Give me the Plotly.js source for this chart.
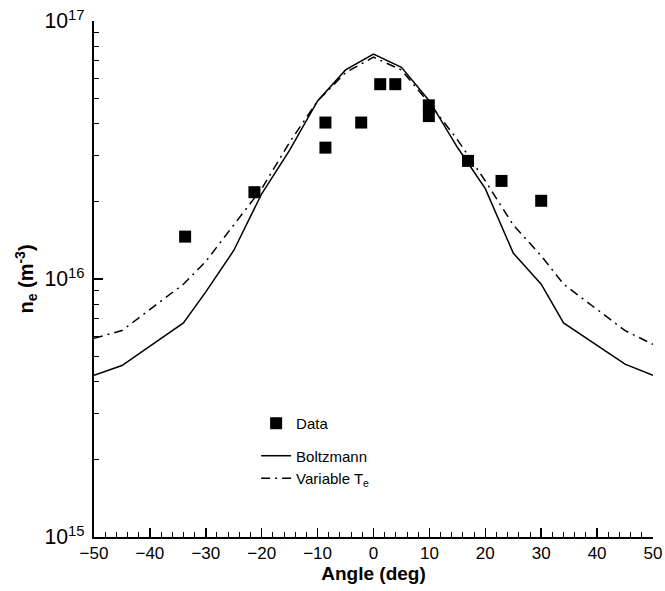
<!DOCTYPE html>
<html>
<head>
<meta charset="utf-8">
<script src="https://cdn.plot.ly/plotly-3.0.1.min.js"></script>
<style>html,body{margin:0;padding:0;background:#fff;}#chart{width:665px;height:591px;}</style>
</head>
<body>
<div id="chart"></div>
<script>
// Data
const dataAngle = [-33.7, -21.3, -8.6, -8.6, -2.2, 1.2, 3.9, 9.9, 9.9, 16.9, 22.9, 30.0];
const dataNe = [1.46e16, 2.17e16, 4.04e16, 3.23e16, 4.04e16, 5.69e16, 5.69e16, 4.71e16, 4.28e16, 2.87e16, 2.40e16, 2.01e16];

const modelAngle = [-50, -45, -34, -30, -25, -20, -15, -10, -5, 0, 5, 10, 15, 20, 25, 30, 34, 45, 50];
const boltzmann = [4.23e15, 4.62e15, 6.76e15, 8.91e15, 1.29e16, 2.14e16, 3.16e16, 4.90e16, 6.46e16, 7.45e16, 6.61e16, 4.90e16, 3.24e16, 2.24e16, 1.26e16, 9.55e15, 6.76e15, 4.68e15, 4.23e15];
const variableTe = [5.89e15, 6.31e15, 9.55e15, 1.17e16, 1.62e16, 2.24e16, 3.39e16, 4.90e16, 6.31e16, 7.24e16, 6.46e16, 4.79e16, 3.47e16, 2.40e16, 1.62e16, 1.23e16, 9.55e15, 6.31e15, 5.58e15];

const font = 'Liberation Sans, Arial, sans-serif';

const traces = [
  {
    x: dataAngle, y: dataNe, yaxis: 'y2', mode: 'markers', name: 'Data', legendgroup: 'a',
    marker: {symbol: 'square', size: 12, color: '#000'}
  },
  {
    x: modelAngle, y: boltzmann, mode: 'lines', name: 'Boltzmann', legendgroup: 'b',
    line: {color: '#000', width: 1.5}
  },
  {
    x: modelAngle, y: variableTe, mode: 'lines', name: 'Variable T<sub>e</sub>', legendgroup: 'b',
    line: {color: '#000', width: 1.5, dash: '9px,5px,2px,5px'}
  }
];

const layout = {
  width: 665, height: 591,
  margin: {l: 94, r: 12, t: 21, b: 54},
  paper_bgcolor: '#fff', plot_bgcolor: '#fff',
  font: {family: font, color: '#000', size: 15},
  showlegend: true,
  legend: {
    x: 0.29, y: 0.252, xanchor: 'left', yanchor: 'top',
    bgcolor: 'rgba(0,0,0,0)', borderwidth: 0,
    font: {family: font, size: 15, color: '#000'},
    traceorder: 'grouped', tracegroupgap: 10
  },
  xaxis: {
    range: [-50, 50], tickmode: 'linear', tick0: 0, dtick: 10,
    ticks: 'inside', ticklen: 9, tickwidth: 1.5, tickcolor: '#000',
    showline: true, linewidth: 2, linecolor: '#000', mirror: false,
    showgrid: false, zeroline: false,
    tickfont: {family: font, size: 17, color: '#000'},
    minor: {dtick: 2, tick0: 0, ticks: 'inside', ticklen: 5, tickwidth: 1, tickcolor: '#000', showgrid: false},
    title: {text: '<b>Angle (deg)</b>', font: {family: font, size: 19, color: '#000'}, standoff: 4}
  },
  yaxis: {
    type: 'log', range: [15, 17], tickmode: 'linear', tick0: 0, dtick: 1,
    showticklabels: false,
    ticks: 'inside', ticklen: 9, tickwidth: 1.5, tickcolor: '#000',
    showline: true, linewidth: 2, linecolor: '#000', mirror: false,
    showgrid: false, zeroline: false,
    minor: {dtick: 'D1', ticks: 'inside', ticklen: 5, tickwidth: 1, tickcolor: '#000', showgrid: false}
  },
  yaxis2: {
    type: 'log', range: [15, 17], tickmode: 'linear', tick0: 0, dtick: 1,
    overlaying: 'y', side: 'left', anchor: 'x',
    exponentformat: 'power', showexponent: 'all',
    ticks: 'outside', ticklen: 5, tickcolor: 'rgba(0,0,0,0)',
    showline: false, showgrid: false, zeroline: false,
    tickfont: {family: font, size: 17, color: '#000'},
    title: {text: '<b>n<sub>e</sub> (m<sup>-3</sup>)</b>', font: {family: font, size: 20, color: '#000'}, standoff: 5}
  }
};

Plotly.newPlot('chart', traces, layout, {displayModeBar: false, staticPlot: true});
</script>
</body>
</html>
